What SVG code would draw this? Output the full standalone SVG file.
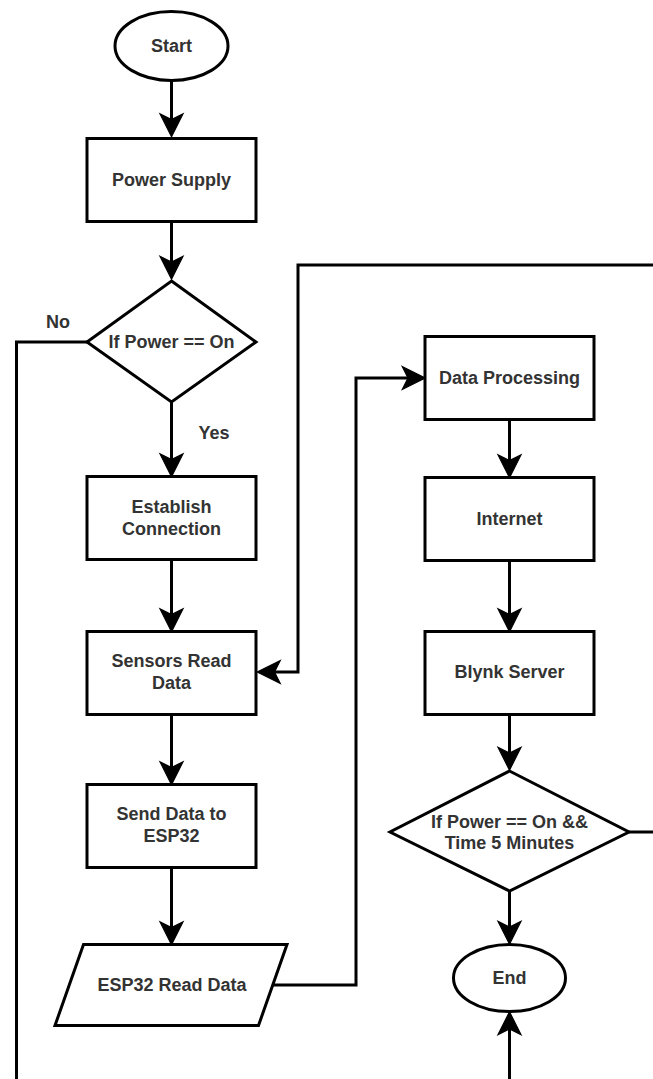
<svg xmlns="http://www.w3.org/2000/svg" width="653" height="1079" viewBox="0 0 653 1079">
<style>
.s{fill:#fff;stroke:#000;stroke-width:3}
.t{font-family:"Liberation Sans",Arial,sans-serif;font-size:18px;font-weight:bold;fill:#333;text-anchor:middle;dominant-baseline:central}
.c{fill:none;stroke:#000;stroke-width:3}
</style>
<defs>
<marker id="a" markerUnits="userSpaceOnUse" orient="auto" refX="0" refY="0" markerWidth="30" markerHeight="30" viewBox="-20 -12 26 24" overflow="visible">
<path d="M2,0 L-18,-10 L-13,0 L-18,10 Z" fill="#000" stroke="#000" stroke-width="1" stroke-linejoin="miter"/>
</marker>
</defs>
<rect width="653" height="1079" fill="#fff"/>
<g id="connectors">
<path class="c" d="M171.5,80.5 V134.5" marker-end="url(#a)"/>
<path class="c" d="M171.5,221.5 V277" marker-end="url(#a)"/>
<path class="c" d="M171.5,402 V474.5" marker-end="url(#a)"/>
<path class="c" d="M171.5,559.5 V629.5" marker-end="url(#a)"/>
<path class="c" d="M171.5,714.5 V782.5" marker-end="url(#a)"/>
<path class="c" d="M171.5,867.5 V942.5" marker-end="url(#a)"/>
<path class="c" d="M272,985 H356 V378 H423" marker-end="url(#a)"/>
<path class="c" d="M509.5,419.5 V475.5" marker-end="url(#a)"/>
<path class="c" d="M509.5,560.5 V629.5" marker-end="url(#a)"/>
<path class="c" d="M509.5,714.5 V768" marker-end="url(#a)"/>
<path class="c" d="M509.5,891 V942" marker-end="url(#a)"/>
<path class="c" d="M629,832 H670 V265 H298 V672 H259.5" marker-end="url(#a)"/>
<path class="c" d="M87,342 H16.5 V1110 H509.5 V1014" marker-end="url(#a)"/>
</g>
<g id="start"><ellipse class="s" cx="171.5" cy="46" rx="56.5" ry="34.5"/><text class="t" x="171.5" y="46">Start</text></g>
<g id="power-supply"><rect class="s" x="87" y="138.5" width="169" height="83"/><text class="t" x="171.5" y="180">Power Supply</text></g>
<g id="if-power"><polygon class="s" points="171.5,281 256,342 171.5,402 87,342"/><text class="t" x="171.5" y="342">If Power == On</text></g>
<g id="label-no"><text class="t" x="58" y="322">No</text></g>
<g id="label-yes"><text class="t" x="214" y="433">Yes</text></g>
<g id="establish"><rect class="s" x="87" y="476.5" width="169" height="83"/><text class="t" x="171.5" y="507">Establish</text><text class="t" x="171.5" y="529">Connection</text></g>
<g id="sensors"><rect class="s" x="87" y="631.5" width="169" height="83"/><text class="t" x="171.5" y="661">Sensors Read</text><text class="t" x="171.5" y="683">Data</text></g>
<g id="send"><rect class="s" x="87" y="784.5" width="169" height="83"/><text class="t" x="171.5" y="814">Send Data to</text><text class="t" x="171.5" y="836">ESP32</text></g>
<g id="esp32-read"><polygon class="s" points="83.5,944.5 287,944.5 258.5,1025.5 55,1025.5"/><text class="t" x="172" y="985">ESP32 Read Data</text></g>
<g id="data-processing"><rect class="s" x="425" y="336.5" width="169" height="83"/><text class="t" x="509.5" y="378">Data Processing</text></g>
<g id="internet"><rect class="s" x="425" y="477.5" width="169" height="83"/><text class="t" x="509.5" y="519">Internet</text></g>
<g id="blynk"><rect class="s" x="425" y="631.5" width="169" height="83"/><text class="t" x="509.5" y="672">Blynk Server</text></g>
<g id="if-power-time"><polygon class="s" points="509.5,771 629,832 509.5,891 390,832"/><text class="t" x="509.5" y="822">If Power == On &amp;&amp;</text><text class="t" x="509.5" y="843">Time 5 Minutes</text></g>
<g id="end"><ellipse class="s" cx="509.5" cy="978" rx="56" ry="33.5"/><text class="t" x="509.5" y="978">End</text></g>
</svg>
